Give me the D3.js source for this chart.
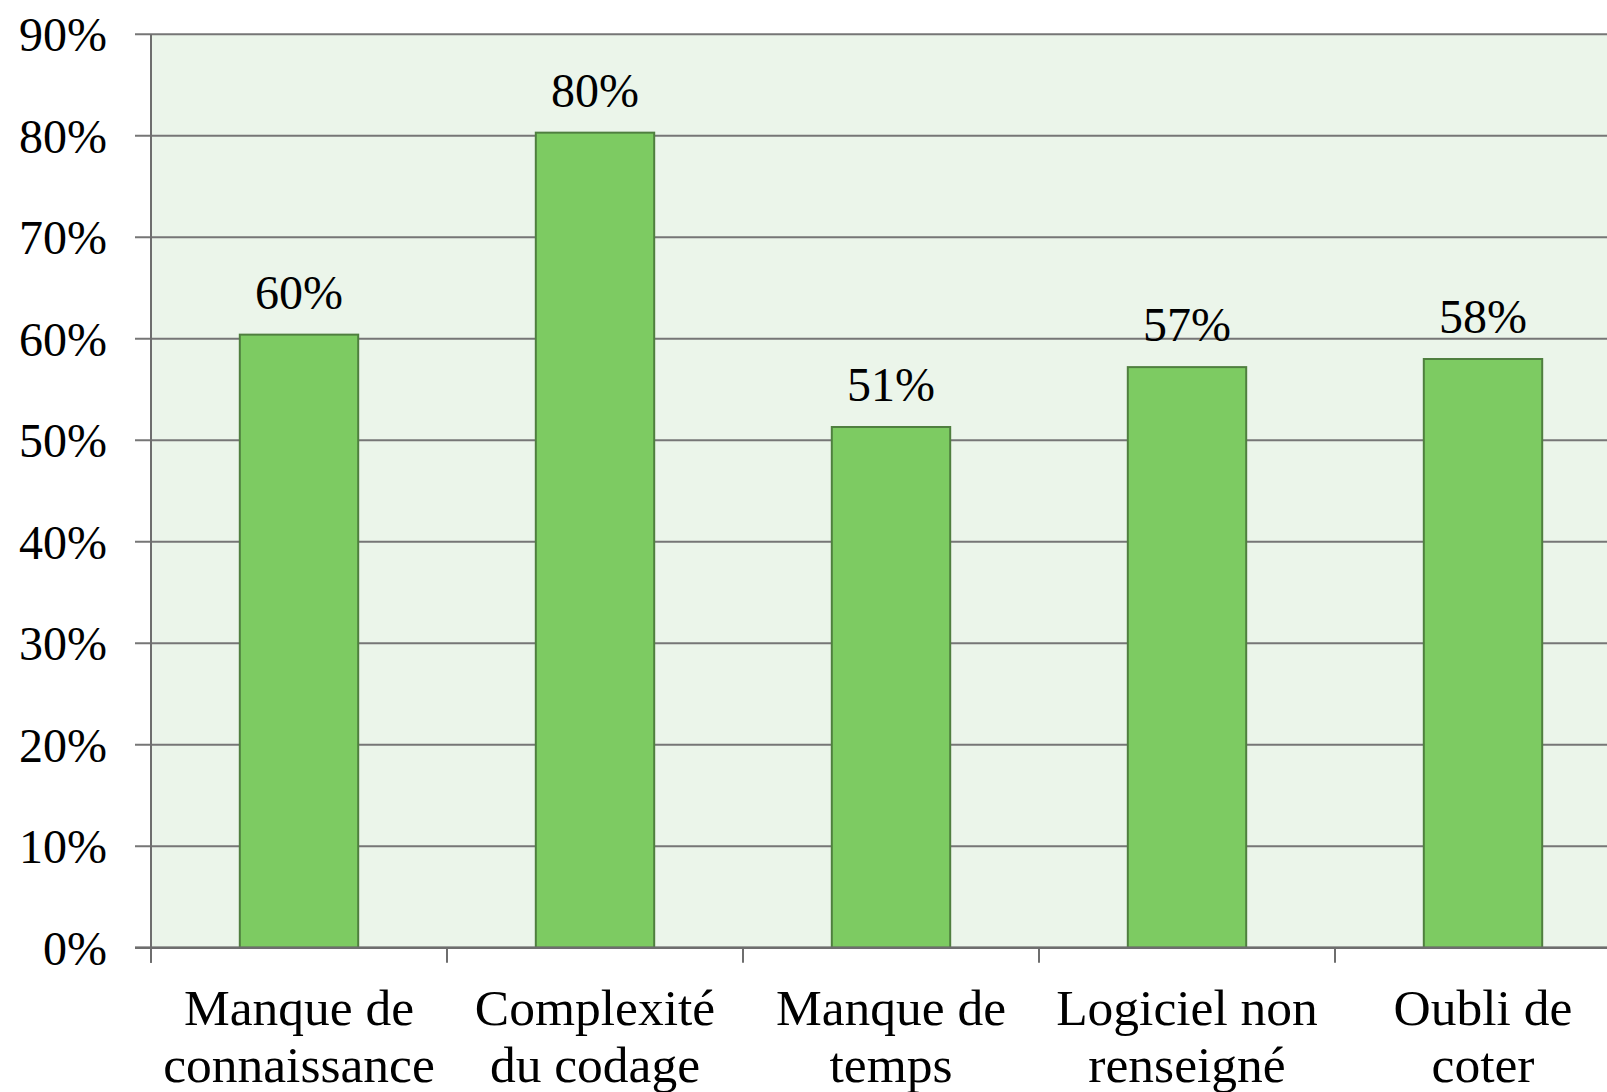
<!DOCTYPE html>
<html>
<head>
<meta charset="utf-8">
<script src="https://cdn.jsdelivr.net/npm/d3@7"></script>
<style>
  body { margin: 0; background: #fff; }
  text { font-family: "Liberation Serif", "DejaVu Serif", serif; fill: #000; }
</style>
</head>
<body>
<div id="chart"></div>
<script>
// data
var categories = [
  ['Manque de', 'connaissance'],
  ['Complexité', 'du codage'],
  ['Manque de', 'temps'],
  ['Logiciel non', 'renseigné'],
  ['Oubli de', 'coter']
];
var values = [0.604, 0.803, 0.513, 0.572, 0.58];
var valueLabels = ['60%', '80%', '51%', '57%', '58%'];
var yTicks = [0, 0.1, 0.2, 0.3, 0.4, 0.5, 0.6, 0.7, 0.8, 0.9];

var width = 1607, height = 1092;
var plotLeft = 151, plotRight = 1631, plotTop = 34.2, plotBottom = 947.7;

var svg = d3.select('#chart')
  .append('svg')
  .attr('width', width)
  .attr('height', height);

var x = d3.scaleBand()
  .domain(d3.range(categories.length))
  .range([plotLeft, plotRight])
  .paddingInner(0.6)
  .paddingOuter(0.3);

var y = d3.scaleLinear()
  .domain([0, 0.9])
  .range([plotBottom, plotTop]);

// plot background
svg.append('rect')
  .attr('x', plotLeft).attr('y', plotTop)
  .attr('width', plotRight - plotLeft).attr('height', plotBottom - plotTop)
  .attr('fill', '#ebf5ea');

// gridlines + y ticks
svg.selectAll('line.grid')
  .data(yTicks)
  .enter()
  .append('line')
  .attr('class', 'grid')
  .attr('x1', plotLeft - 16).attr('x2', plotRight)
  .attr('y1', function(d) { return y(d); })
  .attr('y2', function(d) { return y(d); })
  .attr('stroke', '#767676')
  .attr('stroke-width', 2);

svg.selectAll('text.ytick')
  .data(yTicks)
  .enter()
  .append('text')
  .attr('class', 'ytick')
  .attr('x', 107)
  .attr('y', function(d) { return y(d); })
  .attr('dy', '0.35em')
  .attr('text-anchor', 'end')
  .attr('font-size', 48)
  .text(d3.format('.0%'));

// bars
svg.selectAll('rect.bar')
  .data(values)
  .enter()
  .append('rect')
  .attr('class', 'bar')
  .attr('x', function(d, i) { return x(i); })
  .attr('y', function(d) { return y(d); })
  .attr('width', x.bandwidth())
  .attr('height', function(d) { return plotBottom - y(d); })
  .attr('fill', '#7dcb62')
  .attr('stroke', '#4f7f3f')
  .attr('stroke-width', 2);

// value labels
svg.selectAll('text.val')
  .data(values)
  .enter()
  .append('text')
  .attr('class', 'val')
  .attr('x', function(d, i) { return x(i) + x.bandwidth() / 2; })
  .attr('y', function(d) { return y(d) - 26; })
  .attr('text-anchor', 'middle')
  .attr('font-size', 48)
  .text(function(d, i) { return valueLabels[i]; });

// axes lines
svg.append('line')
  .attr('x1', plotLeft).attr('x2', plotLeft)
  .attr('y1', plotTop).attr('y2', plotBottom + 15)
  .attr('stroke', '#6e6e6e').attr('stroke-width', 2);

svg.append('line')
  .attr('x1', plotLeft - 16).attr('x2', plotRight)
  .attr('y1', plotBottom).attr('y2', plotBottom)
  .attr('stroke', '#6e6e6e').attr('stroke-width', 2.5);

// category boundary ticks
svg.selectAll('line.xtick')
  .data(d3.range(categories.length + 1))
  .enter()
  .append('line')
  .attr('class', 'xtick')
  .attr('x1', function(i) { return plotLeft + i * x.step(); })
  .attr('x2', function(i) { return plotLeft + i * x.step(); })
  .attr('y1', plotBottom).attr('y2', plotBottom + 15)
  .attr('stroke', '#6e6e6e').attr('stroke-width', 2);

// category labels
var cat = svg.selectAll('text.cat')
  .data(categories)
  .enter()
  .append('text')
  .attr('class', 'cat')
  .attr('text-anchor', 'middle')
  .attr('font-size', 51.5);

cat.append('tspan')
  .attr('x', function(d, i) { return x(i) + x.bandwidth() / 2; })
  .attr('y', 1025)
  .text(function(d) { return d[0]; });

cat.append('tspan')
  .attr('x', function(d, i) { return x(i) + x.bandwidth() / 2; })
  .attr('y', 1082)
  .text(function(d) { return d[1]; });
</script>
</body>
</html>
